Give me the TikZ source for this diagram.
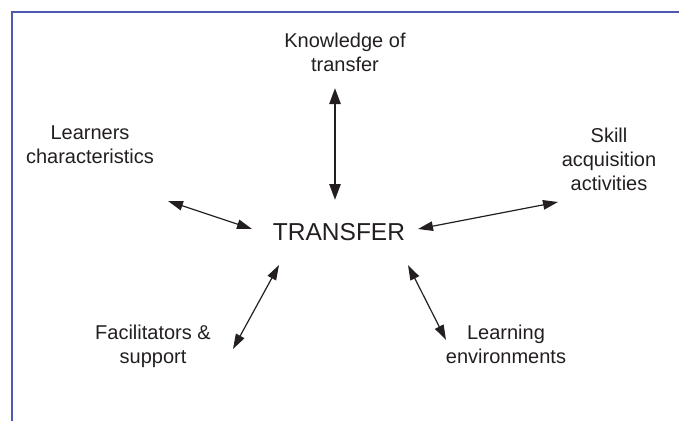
\documentclass[tikz,border=0pt]{standalone}
\usepackage{fontspec}
\setmainfont{Liberation Sans}
\usetikzlibrary{arrows.meta}
\definecolor{framecol}{HTML}{4F59B0}
\definecolor{ink}{HTML}{231F20}
\begin{document}
\begin{tikzpicture}[x=1pt,y=-1pt,
  label/.style={align=center,inner sep=0pt,anchor=north,text=ink,
    font=\fontsize{20}{24}\selectfont},
  hub/.style={inner sep=0pt,text=ink,font=\fontsize{24.5}{28}\selectfont},
  link/.style={draw=ink,line width=1.2pt,
    {Triangle[length=15pt,width=9.5pt]}-{Triangle[length=15pt,width=9.5pt]}},
  mainlink/.style={draw=ink,line width=2.5pt,
    {Triangle[length=16pt,width=11pt]}-{Triangle[length=16pt,width=11pt]}},
  frame/.style={draw=framecol,line width=2pt}]
\useasboundingbox (0,0) rectangle (679,421);
% frame along the top and left edges
\coordinate (fA) at (679,11.5);
\coordinate (fB) at (11.5,11.5);
\coordinate (fC) at (11.5,421);
\draw[frame] (fA) -- (fB) -- (fC);

% labels
\node[hub] (transfer) at (339,232) {TRANSFER};
\node[label] (knowledge) at (345,33) {Knowledge of\\transfer};
\node[label] (learners) at (90,126) {Learners\\characteristics};
\node[label] (skill) at (609,128) {Skill\\acquisition\\activities};
\node[label] (facil) at (153,325) {Facilitators \&\\support};
\node[label] (environ) at (506,325) {Learning\\environments};

% arrow end points
\coordinate (kA) at (335,88);   \coordinate (kB) at (335,200);
\coordinate (lA) at (168,201);  \coordinate (lB) at (252,229);
\coordinate (sA) at (418,229);  \coordinate (sB) at (558,202);
\coordinate (fsA) at (279,265); \coordinate (fsB) at (233,349);
\coordinate (eA) at (408,265);  \coordinate (eB) at (446,340);

\draw[mainlink] (kA) -- (kB);
\draw[link] (lA) -- (lB);
\draw[link] (sA) -- (sB);
\draw[link] (fsA) -- (fsB);
\draw[link] (eA) -- (eB);
\end{tikzpicture}
\end{document}
